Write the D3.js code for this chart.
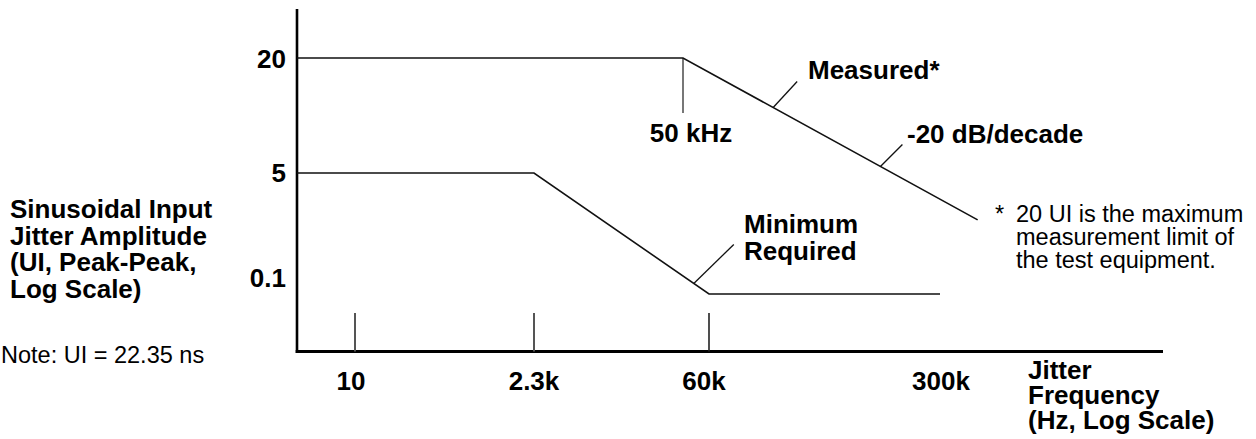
<!DOCTYPE html>
<html>
<head>
<meta charset="utf-8">
<script src="https://cdn.jsdelivr.net/npm/d3@7"></script>
<style>
  html, body { margin: 0; padding: 0; background: #fff; }
  svg { display: block; font-family: "Liberation Sans", Arial, Helvetica, sans-serif; }
</style>
</head>
<body>
<svg id="chart" width="1256" height="439"></svg>
<script>
// ---------------- data ----------------
const xTickValues = [10, 2300, 60000];
const xTickLabels = ["10", "2.3k", "60k"];
const xExtraLabelValue = 300000;
const xExtraLabel = "300k";
const yTickValues = [20, 5, 0.1];
const yTickLabels = ["20", "5", "0.1"];

// Measured (20 UI flat to 50 kHz, then -20 dB/decade)
const measuredFreq = [1, 50000, 390000];
const measuredAmp  = [20, 20, 1.1];
// Minimum required
const minimumFreq = [1, 2300, 60000, 300000];
const minimumAmp  = [5, 5, 0.1, 0.1];

const cornerFreq = 50000;
const cornerLabel = "50 kHz";

const yTitle = ["Sinusoidal Input", "Jitter Amplitude", "(UI, Peak-Peak,", "Log Scale)"];
const xTitle = ["Jitter", "Frequency", "(Hz, Log Scale)"];
const noteText = "Note: UI = 22.35 ns";
const footnote = ["20 UI is the maximum", "measurement limit of", "the test equipment."];
const minLabel = ["Minimum", "Required"];

// ---------------- layout ----------------
const svg = d3.select("#chart");
const X0 = 297, XEND = 1163, YAXIS_TOP = 9, YBASE = 351.5;

// schematic (piecewise) log scales
const x = d3.scaleLog()
  .domain([1, 10, 2300, 50000, 60000, 300000])
  .range([X0, 355, 534, 683, 709, 940]);
const y = d3.scaleLog()
  .domain([0.1, 5, 20])
  .range([294, 173, 58]);

const BOLD = 26, REG = 23.5;

// axes
svg.append("line").attr("x1", X0).attr("x2", X0).attr("y1", YAXIS_TOP).attr("y2", YBASE + 1.5)
  .attr("stroke", "#000").attr("stroke-width", 2.6);
svg.append("line").attr("x1", X0 - 1.3).attr("x2", XEND).attr("y1", YBASE).attr("y2", YBASE)
  .attr("stroke", "#000").attr("stroke-width", 3);

// x ticks
const tickColors = ["#555", "#555", "#222"];
xTickValues.forEach((v, i) => {
  svg.append("line")
    .attr("x1", x(v)).attr("x2", x(v))
    .attr("y1", 313).attr("y2", YBASE)
    .attr("stroke", tickColors[i]).attr("stroke-width", i === 2 ? 1.6 : 2);
  svg.append("text")
    .attr("x", x(v) - (i === 0 ? 4 : i === 2 ? 5 : 0)).attr("y", 390)
    .attr("text-anchor", "middle")
    .attr("font-weight", "bold").attr("font-size", BOLD)
    .text(xTickLabels[i]);
});
svg.append("text")
  .attr("x", x(xExtraLabelValue) + 1).attr("y", 390)
  .attr("text-anchor", "middle")
  .attr("font-weight", "bold").attr("font-size", BOLD)
  .text(xExtraLabel);

// y tick labels
const yLabelDy = [10, 9, -7];
yTickValues.forEach((v, i) => {
  svg.append("text")
    .attr("x", 286).attr("y", y(v) + yLabelDy[i])
    .attr("text-anchor", "end")
    .attr("font-weight", "bold").attr("font-size", BOLD)
    .text(yTickLabels[i]);
});

// corner marker 50 kHz
svg.append("line")
  .attr("x1", x(cornerFreq)).attr("x2", x(cornerFreq))
  .attr("y1", y(20)).attr("y2", 113)
  .attr("stroke", "#777").attr("stroke-width", 2);
svg.append("text")
  .attr("x", x(cornerFreq) + 8).attr("y", 142)
  .attr("text-anchor", "middle")
  .attr("font-weight", "bold").attr("font-size", BOLD)
  .text(cornerLabel);

// series lines
const line = d3.line().x(d => x(d[0])).y(d => y(d[1]));
const measured = measuredFreq.map((f, i) => [f, measuredAmp[i]]);
const minimum = minimumFreq.map((f, i) => [f, minimumAmp[i]]);

svg.append("path").attr("d", line(measured))
  .attr("fill", "none").attr("stroke", "#111").attr("stroke-width", 1.6);
svg.append("path").attr("d", line(minimum))
  .attr("fill", "none").attr("stroke", "#111").attr("stroke-width", 1.6);

// leader helper: point at fraction t along segment (a->b) of a series
function along(series, k, t) {
  const a = series[k], b = series[k + 1];
  return [x(a[0]) + (x(b[0]) - x(a[0])) * t, y(a[1]) + (y(b[1]) - y(a[1])) * t];
}
function leader(p, dx, dy) {
  svg.append("line").attr("x1", p[0]).attr("y1", p[1]).attr("x2", p[0] + dx).attr("y2", p[1] + dy)
    .attr("stroke", "#111").attr("stroke-width", 1.3);
}
leader(along(measured, 1, 0.306), 24, -26);
leader(along(measured, 1, 0.67), 22, -22);
leader(along(minimum, 1, 0.913), 40, -39);

svg.append("text").attr("x", 808).attr("y", 79)
  .attr("font-weight", "bold").attr("font-size", BOLD).text("Measured*");
svg.append("text").attr("x", 907).attr("y", 143)
  .attr("font-weight", "bold").attr("font-size", BOLD).text("-20 dB/decade");

const mt = svg.append("text").attr("font-weight", "bold").attr("font-size", BOLD);
minLabel.forEach((s, i) => mt.append("tspan").attr("x", 744).attr("y", 233 + i * 27).text(s));

// footnote
svg.append("text").attr("x", 995).attr("y", 222).attr("font-size", REG).text("*");
const ft = svg.append("text").attr("font-size", REG);
footnote.forEach((s, i) => ft.append("tspan").attr("x", 1016).attr("y", 222 + i * 23).text(s));

// y title
const yt = svg.append("text").attr("font-weight", "bold").attr("font-size", BOLD);
yTitle.forEach((s, i) => yt.append("tspan").attr("x", 10).attr("y", 218 + i * 26.7).text(s));

// note
svg.append("text").attr("x", 1).attr("y", 363).attr("font-size", REG).text(noteText);

// x title
const xt = svg.append("text").attr("font-weight", "bold").attr("font-size", BOLD);
xTitle.forEach((s, i) => xt.append("tspan").attr("x", 1028).attr("y", 379 + i * 25).text(s));
</script>
</body>
</html>
